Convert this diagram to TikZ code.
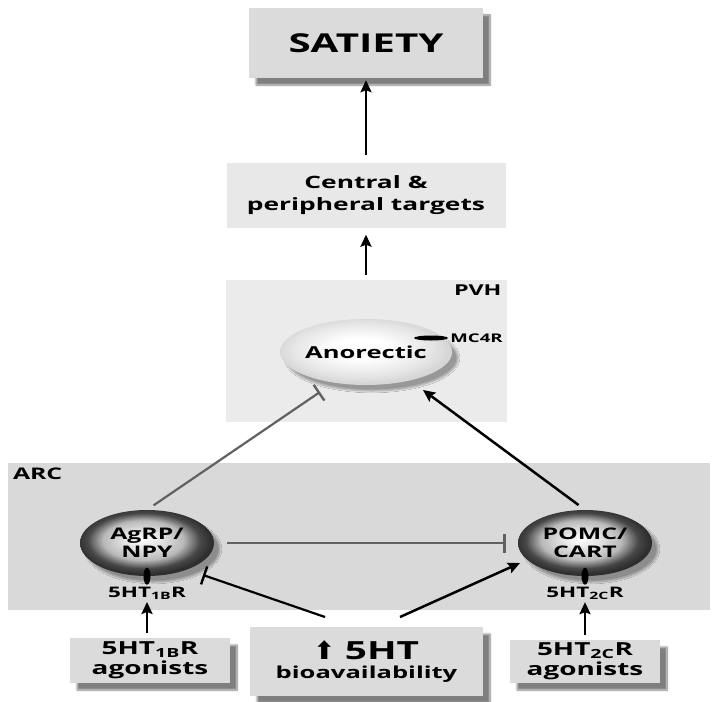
\documentclass[tikz,border=0pt]{standalone}
\usepackage{fontspec}
\usepackage{xcolor}
\usepackage{tikz}
\usetikzlibrary{arrows.meta, shapes.geometric, shadows.blur, positioning}

\newfontfamily\figfont[FakeStretch=1.55]{Open Sans}
\newfontfamily\symfont{DejaVu Sans}
\newcommand{\figsize}[2]{\fontsize{#1}{#2}\selectfont}

\definecolor{boxgray}{gray}{0.86}
\definecolor{targetgray}{gray}{0.91}
\definecolor{pvhgray}{gray}{0.92}
\definecolor{arcgray}{gray}{0.85}
\definecolor{inhgray}{gray}{0.38}

\pgfdeclareradialshading{celllight}{\pgfpoint{-2bp}{3bp}}{color(0bp)=(white); color(8bp)=(white); color(20bp)=(gray!20); color(25bp)=(gray!32); color(50bp)=(gray!32)}
\pgfdeclareradialshading{celldark}{\pgfpoint{-2bp}{3bp}}{color(0bp)=(white); color(7bp)=(gray!22); color(15bp)=(gray!55); color(21bp)=(black!72); color(25bp)=(black!82); color(50bp)=(black!82)}

\begin{document}
\begin{tikzpicture}[x=1pt, y=-1pt, >={Stealth[length=12pt, width=11pt, inset=2pt]},
  font=\figfont\bfseries,
  box/.style={fill=#1, align=center, inner sep=0pt,
    blur shadow={shadow xshift=7pt, shadow yshift=-7pt, shadow blur steps=10, shadow opacity=50}},
  region/.style={fill=#1, inner sep=0pt},
  cell/.style={ellipse, minimum width=134pt, minimum height=66pt, inner sep=0pt, align=center,
    shading=#1, blur shadow={shadow xshift=6pt, shadow yshift=-6pt, shadow blur steps=10, shadow opacity=35}},
  rec/.style={ellipse, fill=black, inner sep=0pt},
  act/.style={->, line width=2.5pt},
  inh/.style={-{Bar[width=19pt, line width=2.4pt]}, line width=2.2pt, draw=#1},
  inh/.default=black]
\useasboundingbox (0,0) rectangle (717,701);

% Regiones
\node[region=pvhgray, minimum width=281pt, minimum height=142pt] (pvh) at (366,351) {};
\node[anchor=north east, inner sep=5pt, font=\figfont\bfseries\figsize{15}{16}] (pvhlbl) at (pvh.north east) {PVH};
\node[region=arcgray, minimum width=702pt, minimum height=147pt] (arc) at (359,536.5) {};
\node[anchor=north west, inner sep=5pt, font=\figfont\bfseries\figsize{16}{17}] (arclbl) at (arc.north west) {ARC};

% Cajas
\node[box=boxgray, minimum width=234pt, minimum height=70pt, font=\figfont\bfseries\figsize{26}{28}] (satiety) at (366,43) {SATIETY};
\node[region=targetgray, align=center, minimum width=279pt, minimum height=65pt, font=\figfont\bfseries\figsize{17}{22}] (targets) at (366,195) {Central \&\\peripheral targets};
\node[box=boxgray, minimum width=160pt, minimum height=45pt, font=\figfont\bfseries\figsize{18}{20}] (ag1) at (150,660.5) {5HT\textsubscript{1B}R\\agonists};
\node[box=boxgray, minimum width=233pt, minimum height=69pt, font=\figfont\bfseries\figsize{16.5}{20}] (ht) at (366.5,661.5)
  {{\figsize{25}{28}{\symfont\bfseries ⬆}\ 5HT}\\[-1pt]bioavailability};
\node[box=boxgray, minimum width=150pt, minimum height=43pt, font=\figfont\bfseries\figsize{18}{20}] (ag2) at (585,661.5) {5HT\textsubscript{2C}R\\agonists};

% Neuronas
\node[cell=celllight, font=\figfont\bfseries\figsize{16.5}{19}] (anor) at (366,352) {Anorectic};
\node[cell=celldark, font=\figfont\bfseries\figsize{16}{18}] (agrp) at (147,543) {AgRP/\\NPY};
\node[cell=celldark, font=\figfont\bfseries\figsize{16}{18}] (pomc) at (585,543) {POMC/\\CART};

% Receptores
\node[rec, minimum width=34pt, minimum height=5pt] (mc4r) at (431,338) {};
\node[right=2pt of mc4r, inner sep=0pt, font=\figfont\bfseries\figsize{12}{13}] (mc4rlbl) {MC4R};
\node[rec, minimum width=7pt, minimum height=17pt] (rec1) at (agrp.south) {};
\node[rec, minimum width=7pt, minimum height=17pt] (rec2) at (pomc.south) {};
\node[below=2pt of rec1, inner sep=0pt, font=\figfont\bfseries\figsize{14.5}{15}] (lab1) {5HT\textsubscript{1B}R};
\node[below=2pt of rec2, inner sep=0pt, font=\figfont\bfseries\figsize{14.5}{15}] (lab2) {5HT\textsubscript{2C}R};

% Puntos libres
\coordinate (inhAnor) at (320,392);
\coordinate (actAnor) at (423,390);
\coordinate (htL) at (325,617);
\coordinate (htR) at (400,617);
\coordinate (inhAgrp) at (203,575);
\coordinate (actPomc) at (520,563);

% Conexiones
\draw[->, line width=2.8pt, shorten <=7pt, shorten >=2pt] (targets) -- (satiety);
\draw[->, line width=2.6pt, shorten <=5pt, shorten >=7pt] (pvh) -- (targets);
\draw[inh=inhgray, shorten <=8pt] (agrp.north) -- (inhAnor);
\draw[act, shorten <=8pt] (pomc.north) -- (actAnor);
\draw[inh=inhgray, shorten <=13pt, shorten >=12pt] (agrp.east) -- (pomc.west);
\draw[inh] (htL) -- (inhAgrp);
\draw[act] (htR) -- (actPomc);
\draw[act, line width=2.8pt, shorten <=5pt, shorten >=2pt] (ag1.north -| lab1.south) -- (lab1.south);
\draw[act, line width=2.8pt, shorten <=5pt, shorten >=2pt] (ag2.north -| lab2.south) -- (lab2.south);
\end{tikzpicture}
\end{document}
